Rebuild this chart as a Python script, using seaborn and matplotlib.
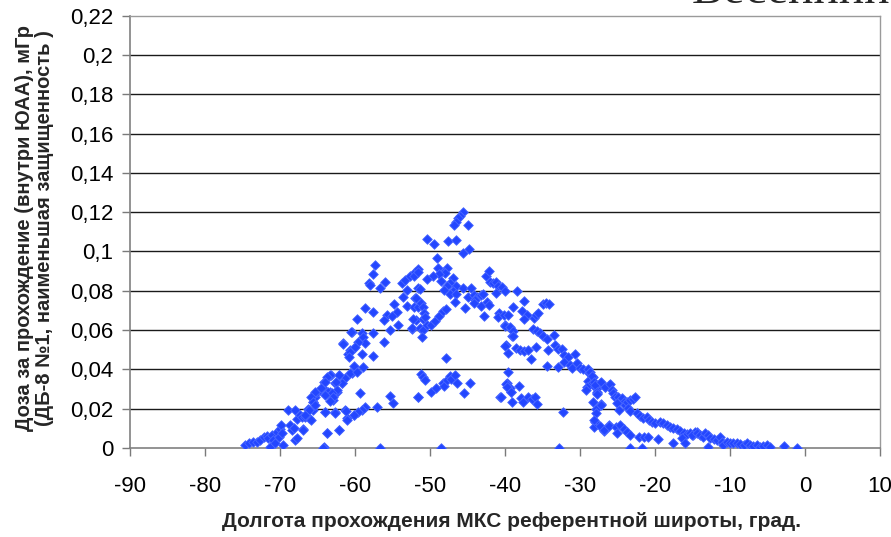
import matplotlib
matplotlib.use("Agg")
import matplotlib.pyplot as plt
import seaborn as sns
import pandas as pd
from matplotlib.ticker import FixedLocator, FixedFormatter

# ---- data ----
longitude = [
    -74.7, -74.2, -73.6, -73.1, -72.7, -72.2, -71.8, -71.6, -71.3, -71.1, -70.9, -70.7, -70.4, -70.2,
    -70.0, -69.9, -69.8, -69.6, -68.9, -68.7, -68.4, -68.2, -68.0, -67.8, -68.0, -67.8, -67.3, -66.9,
    -67.1, -66.7, -66.3, -66.2, -65.9, -65.6, -65.6, -65.3, -65.1, -64.7, -64.3, -64.2, -64.1, -64.0,
    -63.8, -63.8, -63.6, -63.3, -63.2, -63.1, -62.9, -62.7, -62.7, -62.4, -62.2, -62.2, -61.8, -61.6,
    -61.3, -61.1, -60.9, -60.7, -60.4, -60.2, -60.4,
    -57.3, -57.6, -58.1, -58.0, -56.0, -56.7, -58.7, -57.6, -59.7, -60.6, -59.1, -57.6, -58.9, -58.7,
    -59.6, -61.6, -60.2, -60.7, -60.0, -59.1, -60.8, -57.6, -56.1, -60.2, -59.0, -60.7, -59.8, -61.3,
    -62.1, -63.3, -63.8, -64.0, -61.8, -62.5, -64.6, -65.3, -62.4, -63.6, -63.1, -64.0, -62.9, -65.9,
    -59.3, -65.6, -63.3, -65.3, -55.3, -55.0, -51.6, -58.7, -59.1, -59.6, -60.2, -57.1, -61.2, -62.7,
    -64.0, -66.2, -66.7, -61.1, -67.0, -63.8, -62.2, -64.3, -56.7,
    -53.8, -53.3, -52.7, -52.0, -51.6, -53.1, -53.6, -52.0, -53.1, -54.8, -54.4, -55.7, -56.2, -55.1,
    -55.3, -54.3, -52.4, -51.6, -51.9,
    -45.6, -46.0, -46.3, -46.5, -46.8, -44.9, -50.4, -49.5, -47.6, -46.5, -44.8, -45.6, -49.1, -47.7,
    -48.2, -48.9, -48.0, -48.8, -49.6, -50.4, -48.6, -47.0, -47.3, -47.7, -46.5, -48.2, -46.9, -47.4,
    -46.5, -45.6, -44.5, -45.0, -44.2, -43.8, -43.2, -43.0, -44.0, -44.2, -46.7, -45.3, -43.2, -42.4,
    -42.2, -42.8, -52.2, -51.6, -51.4, -51.9, -52.1, -51.6, -51.2, -50.9, -50.8, -50.9, -50.7, -52.3,
    -52.4, -51.3, -51.0, -51.1, -50.4, -49.9, -49.3, -48.8, -48.3, -47.9, -42.5, -42.2, -42.0, -41.6,
    -41.2, -40.9, -41.2, -40.4, -40.0, -38.4, -39.0, -40.8, -41.0, -40.2, -39.6, -40.0, -39.4, -39.1,
    -39.9, -39.6, -38.5, -47.9, -51.2, -51.0, -50.7, -51.6, -49.9, -49.2, -48.3, -48.2, -47.8, -47.4,
    -47.2, -46.7, -46.4, -45.5, -44.7, -48.6, -39.6, -39.8, -39.4, -39.2, -39.1, -40.7,
    -37.5, -37.7, -37.1, -37.5, -36.2, -35.9, -35.6, -35.0, -34.5, -34.2, -40.0, -39.4, -39.0, -39.0,
    -36.3, -35.8, -35.3, -34.9, -34.4, -33.5, -40.0, -38.0, -37.5, -36.9, -35.9, -36.6, -34.3, -33.3,
    -32.9, -32.4, -32.2, -31.6, -30.7, -34.4, -33.0, -32.1, -31.3, -31.1, -30.4, -30.0, -29.6, -29.0,
    -28.8, -28.3, -28.9, -28.4, -29.1, -29.2, -28.0, -27.6, -27.3, -27.7, -26.7, -26.1, -39.9, -39.7,
    -39.2, -38.1, -37.9, -37.6, -37.0, -36.4, -36.0, -35.8, -32.3, -40.6, -32.8, -28.3, -27.2, -27.9,
    -27.9, -28.0, -27.7, -28.2, -27.4, -26.8, -26.2,
    -28.7, -28.4, -28.2, -28.0, -27.8, -27.7, -27.2, -26.7, -26.0, -25.8, -25.6, -25.3, -24.9, -24.4,
    -24.2, -24.0, -23.8, -23.3, -23.0, -22.7, -25.1, -24.8, -23.6, -23.4, -27.2, -22.4, -22.0, -21.6,
    -21.1, -20.8, -20.4, -20.0, -19.3, -18.9, -18.4, -18.0, -17.6, -17.1, -16.7, -16.2, -15.8, -15.3,
    -14.9, -14.4, -16.4, -16.0, -17.6, -19.6, -22.1, -21.5, -20.9, -23.4, -21.8, -28.2, -26.8, -26.2,
    -25.2, -25.1, -24.7, -24.2, -23.8, -23.3,
    -14.7, -15.1, -14.4, -14.0, -13.6, -13.3, -12.9, -12.7, -12.2, -11.8, -11.3, -11.1, -10.9, -12.9,
    -10.4, -10.0, -9.6, -9.1, -8.7, -8.2, -7.8, -7.3, -6.9, -6.4, -6.0, -5.6, -5.1, -4.7, -2.8, -1.1,
]
dose = [
    0.0015, 0.0024, 0.0030, 0.0032, 0.0040, 0.0054, 0.0060, 0.0049, 0.0007, 0.0066, 0.0040, 0.0024, 0.0083, 0.0057,
    0.0095, 0.0117, 0.0075, 0.0015, 0.0193, 0.0117, 0.0092, 0.0100, 0.0040, 0.0049, 0.0193, 0.0146, 0.0168, 0.0095,
    0.0159, 0.0159, 0.0197, 0.0151, 0.0142, 0.0193, 0.0236, 0.0261, 0.0286, 0.0295, 0.0303, 0.0003, 0.0337, 0.0185,
    0.0075, 0.0278, 0.0363, 0.0286, 0.0371, 0.0261, 0.0244, 0.0329, 0.0185, 0.0286, 0.0092, 0.0371, 0.0332, 0.0533,
    0.0193, 0.0151, 0.0480, 0.0500, 0.0380, 0.0168, 0.0592,
    0.0931, 0.0885, 0.0841, 0.0829, 0.0843, 0.0812, 0.0711, 0.0693, 0.0656, 0.0592, 0.0583, 0.0587, 0.0563, 0.0536,
    0.0541, 0.0529, 0.0507, 0.0490, 0.0515, 0.0480, 0.0461, 0.0468, 0.0541, 0.0417, 0.0414, 0.0380, 0.0385, 0.0358,
    0.0370, 0.0370, 0.0363, 0.0337, 0.0332, 0.0337, 0.0303, 0.0286, 0.0295, 0.0286, 0.0278, 0.0270, 0.0261, 0.0261,
    0.0281, 0.0236, 0.0240, 0.0219, 0.0264, 0.0230, 0.0261, 0.0210, 0.0193, 0.0185, 0.0168, 0.0210, 0.0190, 0.0176,
    0.0185, 0.0193, 0.0168, 0.0142, 0.0092, 0.0075, 0.0092, 0.0002, 0.0002,
    0.0838, 0.0855, 0.0875, 0.0897, 0.0909, 0.0804, 0.0770, 0.0761, 0.0722, 0.0732, 0.0690, 0.0677, 0.0651, 0.0671,
    0.0600, 0.0626, 0.0604, 0.0812, 0.0651,
    0.1199, 0.1182, 0.1168, 0.1151, 0.1134, 0.1134, 0.1063, 0.1038, 0.1055, 0.1058, 0.1012, 0.0990, 0.0965, 0.0917,
    0.0897, 0.0914, 0.0892, 0.0885, 0.0875, 0.0858, 0.0851, 0.0863, 0.0838, 0.0824, 0.0824, 0.0804, 0.0800, 0.0782,
    0.0782, 0.0816, 0.0816, 0.0770, 0.0778, 0.0766, 0.0778, 0.0782, 0.0753, 0.0736, 0.0744, 0.0711, 0.0722, 0.0744,
    0.0727, 0.0673, 0.0875, 0.0897, 0.0807, 0.0761, 0.0719, 0.0716, 0.0736, 0.0719, 0.0685, 0.0655, 0.0668, 0.0655,
    0.0609, 0.0609, 0.0600, 0.0566, 0.0624, 0.0624, 0.0648, 0.0671, 0.0698, 0.0706, 0.0875, 0.0902, 0.0846, 0.0841,
    0.0846, 0.0824, 0.0790, 0.0817, 0.0800, 0.0800, 0.0716, 0.0685, 0.0665, 0.0677, 0.0677, 0.0626, 0.0609, 0.0570,
    0.0522, 0.0482, 0.0507, 0.0459, 0.0376, 0.0363, 0.0346, 0.0258, 0.0283, 0.0307, 0.0332, 0.0317, 0.0346, 0.0366,
    0.0351, 0.0373, 0.0329, 0.0278, 0.0332, 0.0002, 0.0388, 0.0329, 0.0303, 0.0283, 0.0236, 0.0258,
    0.0749, 0.0697, 0.0677, 0.0655, 0.0660, 0.0677, 0.0688, 0.0732, 0.0736, 0.0732, 0.0620, 0.0614, 0.0597, 0.0570,
    0.0604, 0.0597, 0.0587, 0.0570, 0.0553, 0.0575, 0.0520, 0.0498, 0.0493, 0.0498, 0.0515, 0.0451, 0.0498, 0.0524,
    0.0502, 0.0502, 0.0473, 0.0464, 0.0478, 0.0419, 0.0414, 0.0439, 0.0422, 0.0405, 0.0431, 0.0405, 0.0402, 0.0400,
    0.0383, 0.0360, 0.0342, 0.0332, 0.0309, 0.0295, 0.0312, 0.0309, 0.0332, 0.0281, 0.0312, 0.0320, 0.0326, 0.0309,
    0.0286, 0.0315, 0.0253, 0.0236, 0.0261, 0.0248, 0.0261, 0.0224, 0.0185, 0.0261, 0.0002, 0.0236, 0.0222, 0.0197,
    0.0180, 0.0134, 0.0122, 0.0108, 0.0112, 0.0088, 0.0117,
    0.0388, 0.0366, 0.0337, 0.0320, 0.0286, 0.0275, 0.0337, 0.0312, 0.0324, 0.0295, 0.0281, 0.0261, 0.0258, 0.0253,
    0.0236, 0.0219, 0.0236, 0.0244, 0.0248, 0.0261, 0.0227, 0.0193, 0.0202, 0.0190, 0.0219, 0.0176, 0.0163, 0.0151,
    0.0156, 0.0142, 0.0134, 0.0126, 0.0134, 0.0126, 0.0117, 0.0108, 0.0100, 0.0095, 0.0088, 0.0078, 0.0071, 0.0075,
    0.0066, 0.0083, 0.0049, 0.0024, 0.0024, 0.0044, 0.0057, 0.0054, 0.0057, 0.0002, 0.0002, 0.0142, 0.0092, 0.0112,
    0.0108, 0.0078, 0.0117, 0.0095, 0.0083, 0.0066,
    0.0083, 0.0066, 0.0075, 0.0066, 0.0057, 0.0078, 0.0066, 0.0049, 0.0044, 0.0040, 0.0054, 0.0032, 0.0015, 0.0007,
    0.0032, 0.0024, 0.0027, 0.0024, 0.0020, 0.0015, 0.0024, 0.0015, 0.0010, 0.0015, 0.0007, 0.0010, 0.0015, 0.0003, 0.0012, 0.0002,
]

x_ticks = [-90, -80, -70, -60, -50, -40, -30, -20, -10, 0, 10]
x_tick_labels = ["-90", "-80", "-70", "-60", "-50", "-40", "-30", "-20", "-10", "0", "10"]
y_ticks = [0, 0.02, 0.04, 0.06, 0.08, 0.1, 0.12, 0.14, 0.16, 0.18, 0.2, 0.22]
y_tick_labels = ["0", "0,02", "0,04", "0,06", "0,08", "0,1", "0,12", "0,14", "0,16", "0,18", "0,2", "0,22"]

title_text = "Весенний период"
x_label = "Долгота прохождения МКС референтной широты, град."
y_label = "Доза за прохождение (внутри ЮАА), мГр\n(ДБ-8 №1, наименьшая защищенность )"

df = pd.DataFrame({"lon": longitude, "dose": dose})

sns.set_theme(style="white")
plt.rcParams["font.family"] = ["Liberation Sans", "DejaVu Sans"]

fig = plt.figure(figsize=(8.91, 5.37), dpi=100)
ax = fig.add_axes([130 / 891, 1 - 448 / 537, 750 / 891, (448 - 15.7) / 537])

sns.scatterplot(data=df, x="lon", y="dose", ax=ax, marker="D", s=24,
                color="#2346ff", edgecolor="#4a68ff", linewidth=0.6, zorder=3)

ax.set_xlim(-90, 10)
ax.set_ylim(0, 0.22)
ax.xaxis.set_major_locator(FixedLocator(x_ticks))
ax.xaxis.set_major_formatter(FixedFormatter(x_tick_labels))
ax.yaxis.set_major_locator(FixedLocator(y_ticks))
ax.yaxis.set_major_formatter(FixedFormatter(y_tick_labels))

for yv in y_ticks[1:-1]:
    ax.axhline(yv, color="#1a1a1a", lw=1.0, zorder=1)

ax.tick_params(axis="both", which="major", direction="out", length=6, width=1,
               color="#7a7a7a", labelsize=16, labelcolor="black")
ax.tick_params(axis="x", pad=14)
ax.tick_params(axis="y", pad=6)
ax.tick_params(left=True, bottom=True)

for side in ["left", "bottom"]:
    ax.spines[side].set_color("#808080")
    ax.spines[side].set_linewidth(1.2)
for side in ["top", "right"]:
    ax.spines[side].set_color("#9a9a9a")
    ax.spines[side].set_linewidth(1.0)

ax.set_xlabel(x_label, fontsize=15, fontweight="bold")
ax.set_ylabel(y_label, fontsize=14.5, fontweight="bold", linespacing=1.05)
ax.xaxis.set_label_coords((512 - 130) / 750, -(512 - 448) / 432.3)
ax.yaxis.set_label_coords(-(130 - 54) / 750, (448 - 228) / 432.3)

fig.text(692 / 891, 1 - 3 / 537, title_text, fontsize=34, family="Liberation Serif",
         ha="left", va="baseline")

fig.savefig("out.png", dpi=100)
